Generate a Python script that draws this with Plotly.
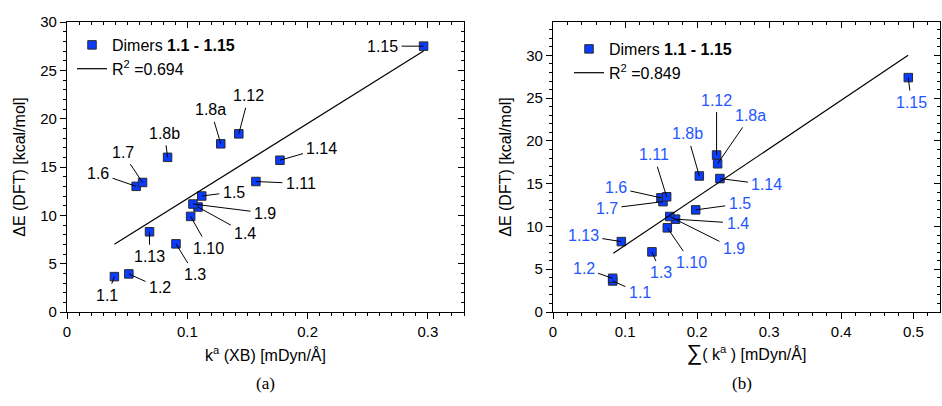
import plotly.graph_objects as go

# ---------------- data ----------------
labels = ["1.1", "1.2", "1.3", "1.4", "1.5", "1.6", "1.7", "1.8a", "1.8b",
          "1.9", "1.10", "1.11", "1.12", "1.13", "1.14", "1.15"]

# panel (a): k^a (XB)
ka_xb = [0.0394, 0.0514, 0.0906, 0.1089, 0.112, 0.0575, 0.0628, 0.1278, 0.0836,
         0.1047, 0.1028, 0.157, 0.1428, 0.0686, 0.177, 0.2964]
dE_a = [3.66, 3.94, 7.05, 10.86, 12.0, 13.0, 13.4, 17.4, 16.0,
        11.17, 9.89, 13.5, 18.43, 8.3, 15.7, 27.5]

# panel (b): sum(k^a)
ka_sum = [0.0828, 0.0828, 0.1373, 0.170, 0.198, 0.1498, 0.1526, 0.2284, 0.203,
          0.162, 0.1586, 0.1577, 0.227, 0.0948, 0.2316, 0.493]
dE_b = [3.63, 3.94, 7.03, 10.85, 11.94, 13.35, 12.9, 17.33, 15.9,
        11.16, 9.84, 13.47, 18.35, 8.23, 15.6, 27.4]

# regression lines (end points)
fit_a_x = [0.0394, 0.2964]
fit_a_y = [7.0, 27.0]
fit_b_x = [0.0837, 0.4928]
fit_b_y = [6.87, 30.0]

r2_a = "0.694"
r2_b = "0.849"

# ---------------- label placement (pixel offsets of the text from the point) --------
offs_a = {"1.1": (-7, 19), "1.2": (31, 14), "1.3": (19, 31), "1.4": (47, 26),
          "1.5": (32, -4), "1.6": (-38, -13), "1.7": (-20, -30), "1.8a": (-10, -34),
          "1.8b": (-3, -24), "1.9": (72, 9), "1.10": (18, 32), "1.11": (45, 2),
          "1.12": (10, -38), "1.13": (0, 25), "1.14": (42, -12), "1.15": (-41, 0)}
offs_b = {"1.1": (27, 12), "1.2": (-29, -10), "1.3": (9, 21), "1.4": (62, 4),
          "1.5": (44, -6), "1.6": (-45, -10), "1.7": (-56, 7), "1.8a": (33, -48),
          "1.8b": (-12, -42), "1.9": (64, 32), "1.10": (24, 35), "1.11": (-13, -42),
          "1.12": (0, -55), "1.13": (-38, -6), "1.14": (47, 6), "1.15": (3, 25)}

W, H = 942, 406
FONT = "Liberation Sans, Arial, Helvetica, sans-serif"
MARK_FILL = "#0a3cff"
MARK_LINE = "#2a2a2a"
LBL_BLUE = "#2456ff"

fig = go.Figure()

marker = dict(symbol="square", size=8.5, color=MARK_FILL, line=dict(color=MARK_LINE, width=1))

fig.add_trace(go.Scatter(x=ka_xb, y=dE_a, mode="markers", marker=marker,
                         name="Dimers <b>1.1 - 1.15</b>", xaxis="x", yaxis="y",
                         legend="legend"))
fig.add_trace(go.Scatter(x=fit_a_x, y=fit_a_y, mode="lines",
                         line=dict(color="black", width=1.2),
                         name="R<sup>2</sup> =" + r2_a, xaxis="x", yaxis="y",
                         legend="legend"))
fig.add_trace(go.Scatter(x=ka_sum, y=dE_b, mode="markers", marker=marker,
                         name="Dimers <b>1.1 - 1.15</b>", xaxis="x2", yaxis="y2",
                         legend="legend2"))
fig.add_trace(go.Scatter(x=fit_b_x, y=fit_b_y, mode="lines",
                         line=dict(color="black", width=1.2),
                         name="R<sup>2</sup> =" + r2_b, xaxis="x2", yaxis="y2",
                         legend="legend2"))
# invisible traces so the mirror (top/right) tick axes are drawn
fig.add_trace(go.Scatter(x=[fit_a_x[0]], y=[fit_a_y[0]], mode="markers", opacity=0,
                         showlegend=False, hoverinfo="skip", xaxis="x3", yaxis="y3"))
fig.add_trace(go.Scatter(x=[fit_b_x[0]], y=[fit_b_y[0]], mode="markers", opacity=0,
                         showlegend=False, hoverinfo="skip", xaxis="x4", yaxis="y4"))

annotations = []
for lab, xv, yv in zip(labels, ka_xb, dE_a):
    ax, ay = offs_a[lab]
    annotations.append(dict(x=xv, y=yv, xref="x", yref="y", text=lab, ax=ax, ay=ay,
                            showarrow=True, arrowhead=0, arrowwidth=1, arrowcolor="black",
                            standoff=0, startstandoff=2,
                            font=dict(family=FONT, size=16, color="black")))
for lab, xv, yv in zip(labels, ka_sum, dE_b):
    ax, ay = offs_b[lab]
    annotations.append(dict(x=xv, y=yv, xref="x2", yref="y2", text=lab, ax=ax, ay=ay,
                            showarrow=True, arrowhead=0, arrowwidth=1, arrowcolor="black",
                            standoff=0, startstandoff=2,
                            font=dict(family=FONT, size=16, color=LBL_BLUE)))

# panel captions
SERIF = "Liberation Serif, Times New Roman, serif"
annotations.append(dict(x=265 / W, y=1 - 383 / H, xref="paper", yref="paper", text="(a)",
                        xanchor="center", yanchor="middle", showarrow=False,
                        font=dict(family=SERIF, size=17, color="black")))
annotations.append(dict(x=742 / W, y=1 - 383 / H, xref="paper", yref="paper", text="(b)",
                        xanchor="center", yanchor="middle", showarrow=False,
                        font=dict(family=SERIF, size=17, color="black")))

ydom = [1 - 312 / H, 1 - 22 / H]
xdom_a = [67 / W, 464 / W]
xdom_b = [553 / W, 940 / W]

tickfont = dict(family=FONT, size=15, color="black")
titlefont = dict(family=FONT, size=16, color="black")


def main_axis(rng, dtick, mdtick, dom, anchor, title, standoff):
    return dict(range=rng, domain=dom, anchor=anchor, dtick=dtick, tick0=0,
                automargin=False,
                showgrid=False, zeroline=False, showline=True, linecolor="black",
                linewidth=1.2, mirror=True, ticks="outside", ticklen=6, tickwidth=1,
                tickcolor="black", tickfont=tickfont,
                minor=dict(dtick=mdtick, tick0=0, ticks="outside", ticklen=3,
                           tickwidth=1, tickcolor="black", showgrid=False),
                title=dict(text=title, font=titlefont, standoff=standoff))


def mirror_axis(rng, dtick, mdtick, over, anchor, side):
    return dict(range=rng, overlaying=over, anchor=anchor, side=side, dtick=dtick, tick0=0,
                automargin=False,
                showgrid=False, zeroline=False, showline=False, showticklabels=False,
                ticks="inside", ticklen=6, tickwidth=1, tickcolor="black",
                minor=dict(dtick=mdtick, tick0=0, ticks="inside", ticklen=3,
                           tickwidth=1, tickcolor="black", showgrid=False))


ytitle = "ΔE (DFT) [kcal/mol]"

fig.update_layout(
    width=W, height=H,
    margin=dict(l=0, r=0, t=0, b=0, autoexpand=False),
    paper_bgcolor="white", plot_bgcolor="white",
    font=dict(family=FONT, size=15, color="black"),
    xaxis=main_axis([0, 0.33], 0.1, 0.01, xdom_a, "y",
                    "k<sup>a</sup> (XB) [mDyn/Å]", 10),
    yaxis=main_axis([0, 30], 5, 1, ydom, "x", ytitle, 10),
    xaxis2=main_axis([0, 0.537], 0.1, 0.02, xdom_b, "y2",
                     "<span style='font-size:22px'>∑</span>( k<sup>a</sup> ) [mDyn/Å]", 8),
    yaxis2=main_axis([0, 33.9], 5, 1, ydom, "x2", ytitle, 10),
    xaxis3=mirror_axis([0, 0.33], 0.1, 0.01, "x", "y", "top"),
    yaxis3=mirror_axis([0, 30], 5, 1, "y", "x", "right"),
    xaxis4=mirror_axis([0, 0.537], 0.1, 0.02, "x2", "y2", "top"),
    yaxis4=mirror_axis([0, 33.9], 5, 1, "y2", "x2", "right"),
    legend=dict(x=72 / W, y=1 - 28 / H, xanchor="left", yanchor="top",
                bgcolor="rgba(0,0,0,0)", font=dict(family=FONT, size=16, color="black"),
                tracegroupgap=0),
    legend2=dict(x=569 / W, y=1 - 32 / H, xanchor="left", yanchor="top",
                 bgcolor="rgba(0,0,0,0)", font=dict(family=FONT, size=16, color="black"),
                 tracegroupgap=0),
    annotations=annotations,
    showlegend=True,
)

fig.write_html("out.html", config={"displayModeBar": False},
               post_script="document.body.style.margin='0';")
